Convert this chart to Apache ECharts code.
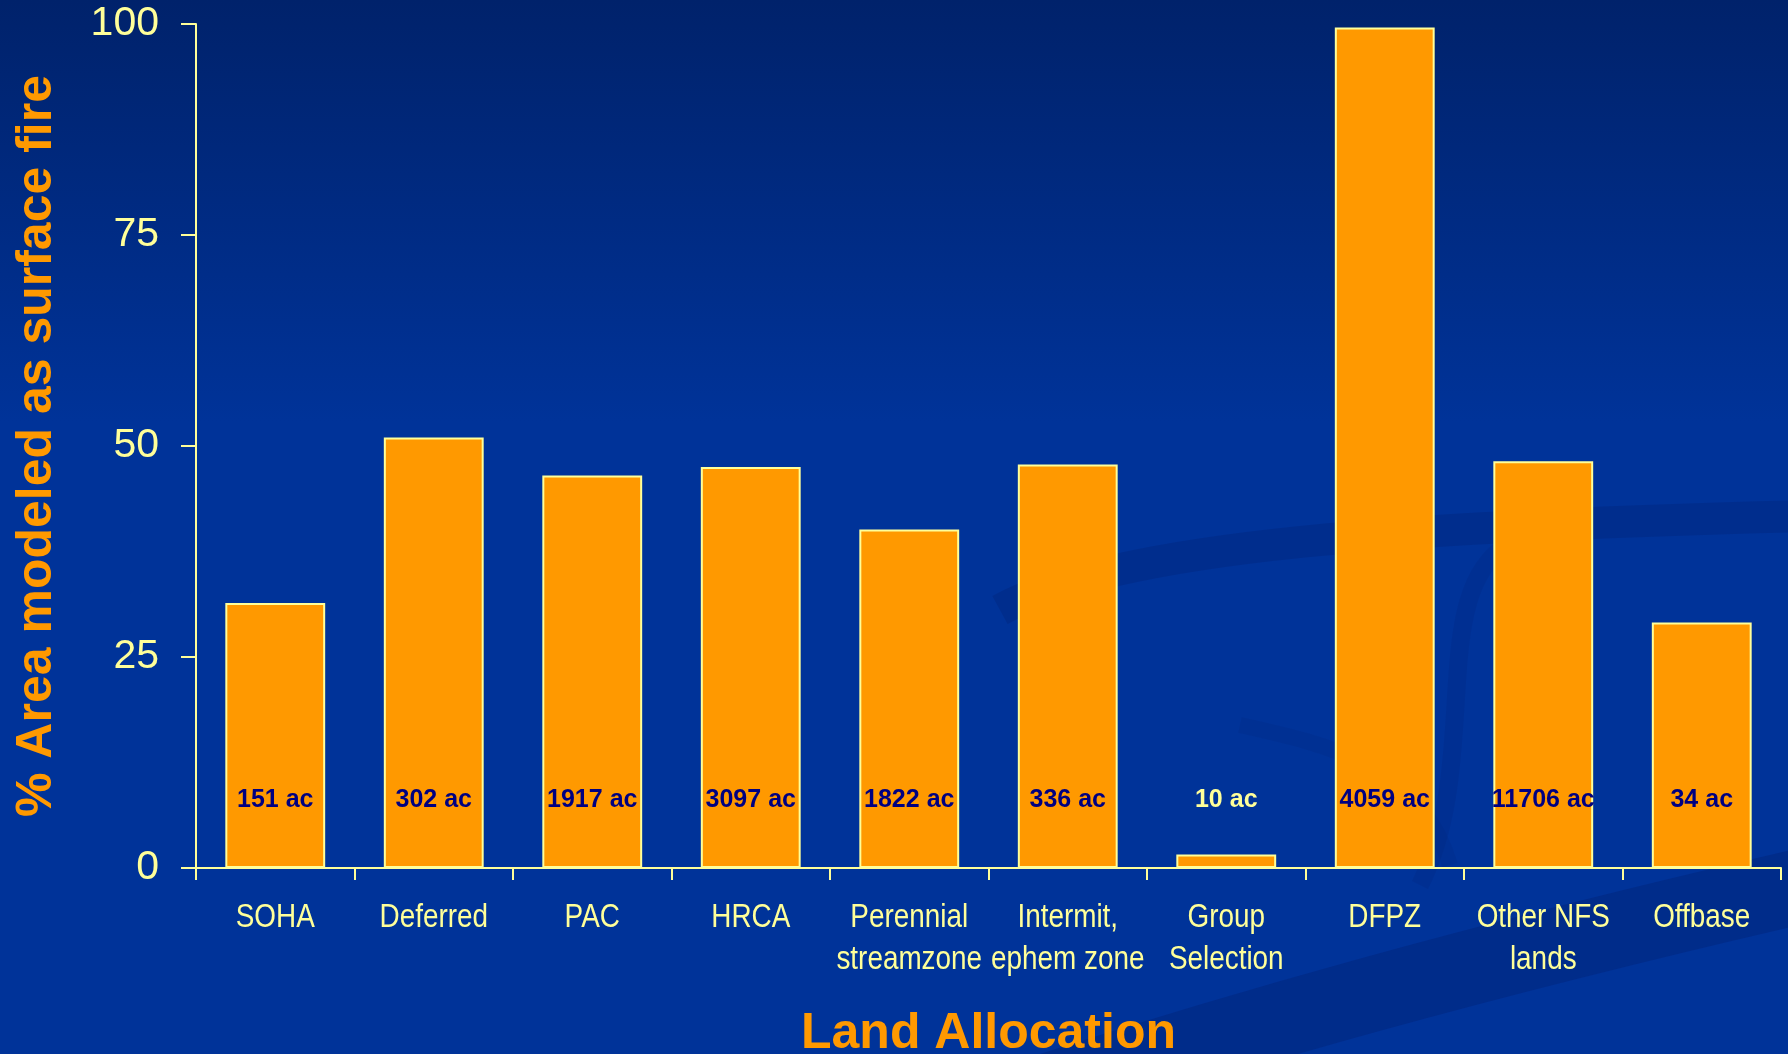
<!DOCTYPE html>
<html>
<head>
<meta charset="utf-8">
<title>Land Allocation – % Area modeled as surface fire</title>
<script src="https://cdn.jsdelivr.net/npm/echarts@6/dist/echarts.min.js"></script>
<style>
  html, body { margin: 0; padding: 0; background: #003399; }
  #chart { width: 1788px; height: 1054px; }
</style>
</head>
<body>
<div id="chart"></div>
<script>
// Land allocation categories (two-line labels where the name wraps)
const categories = [
  'SOHA', 'Deferred', 'PAC', 'HRCA', 'Perennial\nstreamzone',
  'Intermit,\nephem zone', 'Group\nSelection', 'DFPZ', 'Other NFS\nlands', 'Offbase'
];
// Percent of each allocation's area modeled as surface fire
const surfaceFirePct = [31.4, 51.0, 46.5, 47.5, 40.1, 47.8, 1.6, 99.6, 48.2, 29.1];
// Acreage of each allocation, written inside the bars
const acres = [151, 302, 1917, 3097, 1822, 336, 10, 4059, 11706, 34];
// Y axis range and step
const yMin = 0, yMax = 100, yStep = 25;

const PALE = '#FFFF99';
const ORANGE = '#FF9900';
const NAVY = '#000080';
const FONT = '"Liberation Sans", Arial, sans-serif';

const chart = echarts.init(document.getElementById('chart'), null, { renderer: 'canvas' });

// Short bars cannot hold their acreage label, so it sits on the background in pale yellow
const barData = surfaceFirePct.map(v => ({
  value: v,
  label: { color: v < 10 ? PALE : NAVY }
}));

// Faint template swooshes behind the plot
const swoosh = (p, w, op) => ({
  type: 'bezierCurve',
  z: -10,
  silent: true,
  shape: { x1: p[0], y1: p[1], cpx1: p[2], cpy1: p[3], cpx2: p[4], cpy2: p[5], x2: p[6], y2: p[7] },
  style: { fill: null, stroke: 'rgba(0,25,95,' + op + ')', lineWidth: w }
});
const swooshes = [
  swoosh([900, 1140, 1220, 1030, 1520, 950, 1850, 875], 75, 0.25),
  swoosh([1000, 610, 1120, 545, 1400, 525, 1850, 515], 32, 0.2),
  swoosh([1500, 550, 1430, 605, 1480, 765, 1420, 885], 18, 0.12),
  swoosh([1240, 725, 1330, 745, 1420, 765, 1450, 865], 16, 0.1)
];

chart.setOption({
  backgroundColor: {
    type: 'linear', x: 0, y: 0, x2: 0, y2: 1,
    colorStops: [
      { offset: 0, color: '#00226B' },
      { offset: 0.4, color: '#003399' },
      { offset: 1, color: '#003399' }
    ]
  },
  animation: false,
  graphic: swooshes,
  grid: { left: 196, right: 7, top: 24, bottom: 186, containLabel: false, outerBoundsMode: 'none' },
  xAxis: {
    type: 'category',
    data: categories,
    name: 'Land Allocation',
    nameLocation: 'middle',
    nameGap: 141,
    nameTextStyle: { color: ORANGE, fontFamily: FONT, fontWeight: 'bold', fontSize: 50 },
    axisLine: { lineStyle: { color: PALE, width: 2 } },
    axisTick: { show: true, length: 12, alignWithLabel: false, interval: 0, lineStyle: { color: PALE, width: 2 } },
    // category names are drawn below as condensed text
    axisLabel: { show: false, interval: 0 },
    splitLine: { show: false }
  },
  yAxis: {
    type: 'value',
    min: yMin,
    max: yMax,
    interval: yStep,
    name: '% Area modeled as surface fire',
    nameLocation: 'middle',
    nameGap: 134,
    nameTextStyle: { color: ORANGE, fontFamily: FONT, fontWeight: 'bold', fontSize: 50 },
    axisLine: { show: true, lineStyle: { color: PALE, width: 2 } },
    axisTick: { show: true, length: 15, lineStyle: { color: PALE, width: 2 } },
    axisLabel: { margin: 37, color: PALE, fontFamily: FONT, fontSize: 41, padding: [16, 0, 0, 0] },
    splitLine: { show: false }
  },
  series: [{
    type: 'bar',
    data: barData,
    barCategoryGap: '37%',
    itemStyle: { color: ORANGE, borderColor: PALE, borderWidth: 2 },
    label: {
      show: true,
      position: 'insideBottom',
      distance: 55,
      fontFamily: FONT,
      fontWeight: 'bold',
      fontSize: 25,
      formatter: p => acres[p.dataIndex] + ' ac'
    }
  }]
});

// Category names in a condensed face, centred under each category of the x axis
const axisY = chart.convertToPixel({ yAxisIndex: 0 }, yMin);
const nameLabels = categories.map((c, i) => ({
  type: 'text',
  z: 10,
  silent: true,
  x: chart.convertToPixel({ xAxisIndex: 0 }, i),
  y: axisY + 29,
  scaleX: 0.82,
  style: {
    text: c,
    fill: PALE,
    fontFamily: FONT,
    fontSize: 34,
    lineHeight: 42,
    textAlign: 'center',
    textVerticalAlign: 'top'
  }
}));
chart.setOption({ graphic: swooshes.concat(nameLabels) });
</script>
</body>
</html>
